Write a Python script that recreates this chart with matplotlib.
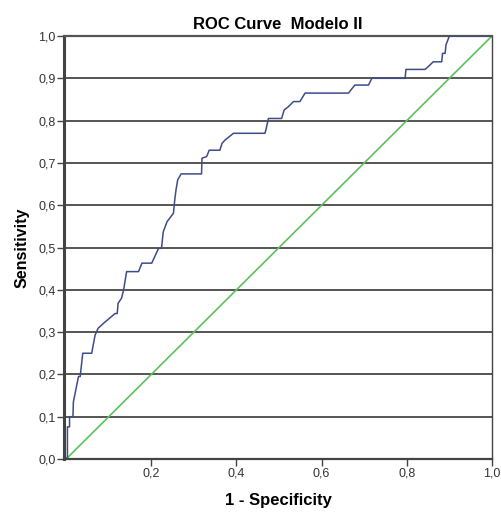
import numpy as np
import matplotlib.pyplot as plt

plt.rcParams['font.family'] = ['Liberation Sans', 'DejaVu Sans']

# ROC curve points (1 - specificity, sensitivity)
fpr = [0.0, 0.003, 0.003, 0.008, 0.008, 0.016, 0.017, 0.029, 0.033, 0.039, 0.060,
       0.068, 0.075, 0.088, 0.115, 0.120, 0.122, 0.130, 0.135, 0.142, 0.170, 0.178,
       0.201, 0.217, 0.224, 0.228, 0.237, 0.252, 0.255, 0.258, 0.262, 0.270, 0.277,
       0.318, 0.319, 0.330, 0.336, 0.361, 0.366, 0.373, 0.393, 0.467, 0.470, 0.475,
       0.506, 0.512, 0.522, 0.534, 0.549, 0.561, 0.663, 0.678, 0.710, 0.718, 0.796,
       0.798, 0.843, 0.854, 0.862, 0.882, 0.884, 0.890, 0.892, 0.900, 1.0]
tpr = [0.0, 0.005, 0.076, 0.076, 0.100, 0.100, 0.135, 0.195, 0.195, 0.250, 0.250,
       0.293, 0.309, 0.321, 0.344, 0.344, 0.368, 0.380, 0.400, 0.443, 0.443, 0.463,
       0.463, 0.498, 0.498, 0.537, 0.561, 0.581, 0.612, 0.636, 0.660, 0.674, 0.674,
       0.674, 0.711, 0.715, 0.730, 0.730, 0.746, 0.754, 0.770, 0.770, 0.782, 0.805,
       0.805, 0.825, 0.833, 0.845, 0.845, 0.865, 0.865, 0.884, 0.884, 0.900, 0.900,
       0.921, 0.921, 0.931, 0.939, 0.939, 0.959, 0.959, 0.979, 1.0, 1.0]

ref_x = [0.0, 1.0]
ref_y = [0.0, 1.0]

x_ticks = [0.2, 0.4, 0.6, 0.8, 1.0]
y_ticks = [0.0, 0.1, 0.2, 0.3, 0.4, 0.5, 0.6, 0.7, 0.8, 0.9, 1.0]

fig = plt.figure(figsize=(5.02, 5.12), dpi=100)
ax = fig.add_axes([0.1275, 0.1035, 0.8525, 0.8262])

for yv in y_ticks[1:]:
    ax.axhline(yv, color='#555555', linewidth=1.4, zorder=1)

ax.plot(ref_x, ref_y, color='#5cc15c', linewidth=1.2, zorder=2)
ax.plot(fpr, tpr, color='#3e4c8a', linewidth=1.1, zorder=3)

ax.set_xlim(-0.005, 1.0)
ax.set_ylim(0, 1.0)
ax.set_xticks(x_ticks)
ax.set_xticklabels([f'{v:.1f}'.replace('.', ',') for v in x_ticks], fontsize=9, color='#333333')
ax.set_yticks(y_ticks)
ax.set_yticklabels([f'{v:.1f}'.replace('.', ',') for v in y_ticks], fontsize=9, color='#333333')
ax.tick_params(length=5, width=1, color='#444444', pad=1)

ax.spines['left'].set_linewidth(2.2)
ax.spines['left'].set_color('#444444')
ax.spines['bottom'].set_linewidth(1.6)
ax.spines['bottom'].set_color('#444444')
ax.spines['right'].set_linewidth(1.0)
ax.spines['right'].set_color('#444444')
ax.spines['top'].set_linewidth(1.6)
ax.spines['top'].set_color('#555555')

ax.set_title('ROC Curve  Modelo II', fontsize=12, fontweight='bold', pad=5)
ax.set_xlabel('1 - Specificity', fontsize=12, fontweight='bold', labelpad=10)
ax.set_ylabel('Sensitivity', fontsize=11.5, fontweight='bold', labelpad=6)

fig.savefig('out.png', dpi=100)
